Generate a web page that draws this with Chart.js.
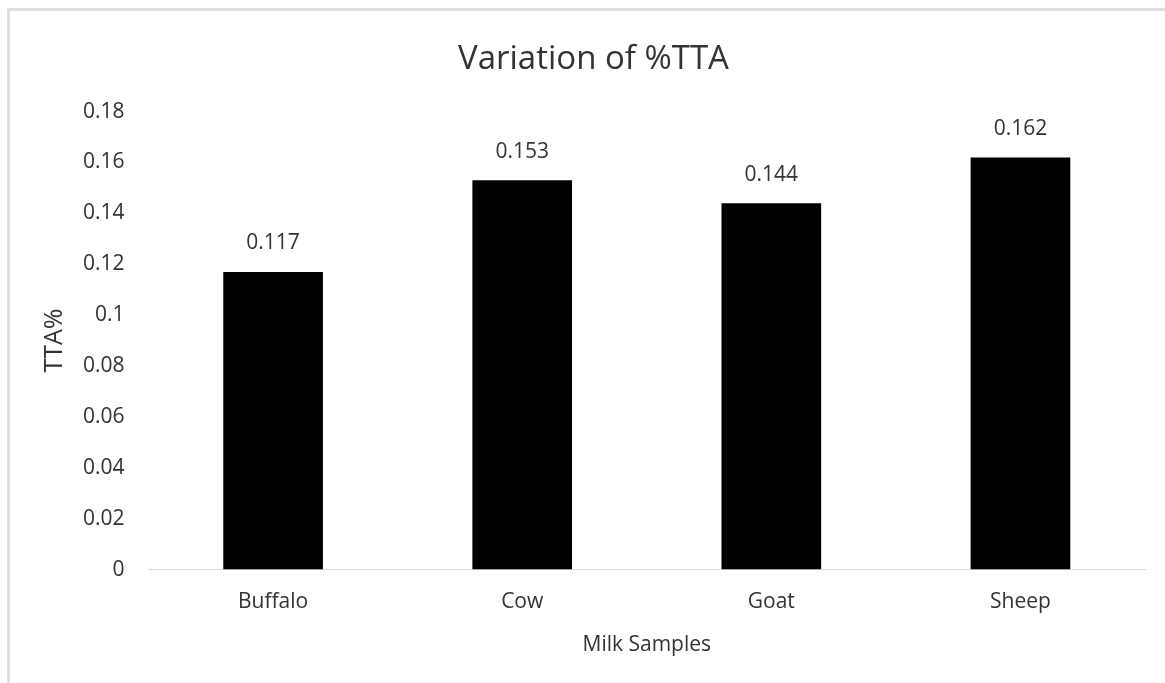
<!DOCTYPE html>
<html>
<head>
<meta charset="utf-8">
<script src="https://cdn.jsdelivr.net/npm/chart.js@4.4.1/dist/chart.umd.min.js"></script>
<style>
  html, body { margin: 0; padding: 0; background: #fff; }
  #wrap { position: relative; width: 1165px; height: 683px; overflow: hidden; }
  #frame { position: absolute; left: 7px; top: 8px; width: 1200px; height: 720px;
           border-left: 3px solid #dedede; border-top: 3px solid #dedede; box-sizing: border-box; }
  canvas { position: absolute; left: 0; top: 0; }
</style>
</head>
<body>
<div id="wrap">
  <div id="frame"></div>
  <canvas id="tta-chart" width="1165" height="683"></canvas>
</div>
<script>
var samples = ["Buffalo", "Cow", "Goat", "Sheep"]
var ttaValues = [0.117, 0.153, 0.144, 0.162]
var yTicks = [0, 0.02, 0.04, 0.06, 0.08, 0.1, 0.12, 0.14, 0.16, 0.18]

var fontFamily = "'Open Sans', 'Noto Sans', sans-serif"
var textColor = "#333333"

// writes the value above each bar
const valueLabels = {
  id: "valueLabels",
  afterDatasetsDraw(chart) {
    const ctx = chart.ctx;
    const meta = chart.getDatasetMeta(0);
    ctx.save();
    ctx.font = "21px " + fontFamily;
    ctx.fillStyle = textColor;
    ctx.textAlign = "center";
    ctx.textBaseline = "bottom";
    meta.data.forEach(function (bar, i) {
      ctx.fillText(String(chart.data.datasets[0].data[i]), bar.x, bar.y - 18);
    });
    ctx.restore();
  }
};

new Chart("tta-chart", {
  type: "bar",
  data: {
    labels: samples,
    datasets: [{
      data: ttaValues,
      backgroundColor: "#000000",
      barPercentage: 0.4,
      categoryPercentage: 1
    }]
  },
  options: {
    responsive: false,
    animation: false,
    layout: { padding: { left: 42, right: 20, top: 32, bottom: 25 } },
    plugins: {
      legend: { display: false },
      tooltip: { enabled: false },
      title: {
        display: true,
        text: "Variation of %TTA",
        color: textColor,
        font: { family: fontFamily, size: 33, weight: "normal" },
        padding: { top: 8, bottom: 32 }
      }
    },
    scales: {
      x: {
        grid: { display: false },
        border: { display: true, color: "#d9d9d9", width: 1 },
        ticks: { color: textColor, font: { family: fontFamily, size: 21 }, padding: 11.5 },
        title: {
          display: true,
          text: "Milk Samples",
          color: textColor,
          font: { family: fontFamily, size: 21 },
          padding: { top: 7, bottom: 0 }
        }
      },
      y: {
        min: 0,
        max: 0.18,
        grid: { display: false },
        border: { display: false },
        afterBuildTicks: function (axis) {
          axis.ticks = yTicks.map(function (v) { return { value: v }; });
        },
        ticks: {
          color: textColor,
          font: { family: fontFamily, size: 21 },
          padding: 16,
          callback: function (v) { return String(+v.toFixed(2)); }
        },
        title: {
          display: true,
          text: "TTA%",
          color: textColor,
          font: { family: fontFamily, size: 25, lineHeight: 1 },
          padding: { top: 0, bottom: 0 }
        }
      }
    }
  },
  plugins: [valueLabels]
});
</script>
</body>
</html>
